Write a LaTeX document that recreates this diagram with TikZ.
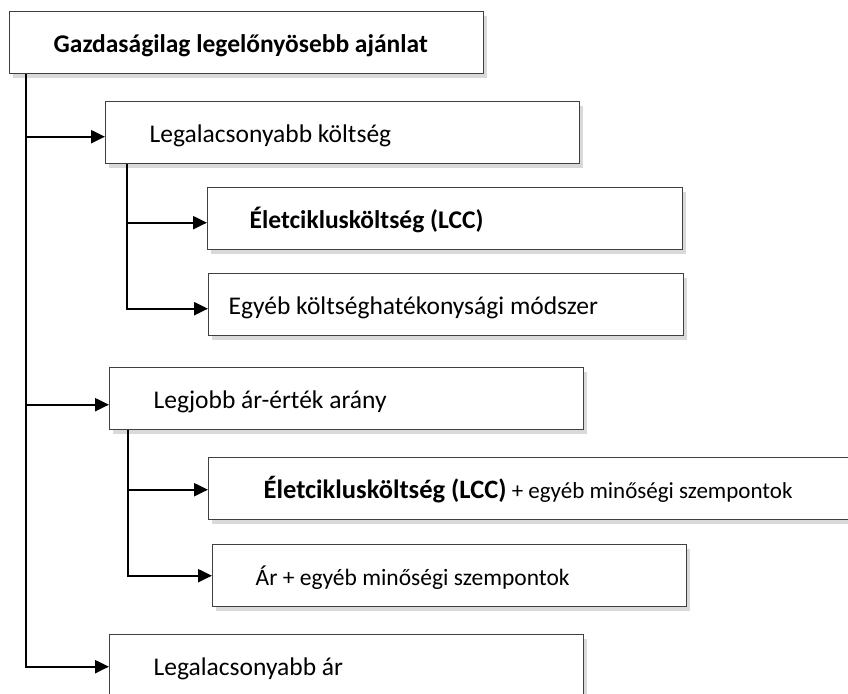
\documentclass[tikz,border=0pt]{standalone}
\usepackage{fontspec}
\setmainfont{Carlito}
\usetikzlibrary{arrows.meta,calc,shadows}

\tikzset{
  box/.style={rectangle, draw=black!75, line width=1.4pt, fill=white,
    anchor=north west, minimum height=62pt, inner xsep=44pt, inner ysep=0pt,
    text width=#1, align=flush left, text height=26pt, text depth=6pt,
    font=\fontsize{25.5}{30}\selectfont,
    drop shadow={shadow xshift=3.5pt, shadow yshift=-4.5pt, opacity=0.3}},
  box/.default=386pt,
  link/.style={line width=2.2pt, -{Triangle[length=14pt,width=13pt]}},
}

\begin{document}
\begin{tikzpicture}[x=1pt, y=-1pt]
  \useasboundingbox (0,0) rectangle (848,693);

  % boxes
  \node[box] (root) at (9,11) {\bfseries Gazdaságilag legelőnyösebb ajánlat};

  \node[box] (lowcost) at (105,101) {Legalacsonyabb költség};
  \node[box=391pt, inner xsep=42pt] (lcc) at (207,187) {\bfseries Életciklusköltség (LCC)};
  \node[box=435pt, inner xsep=20pt] (costeff) at (208,273) {Egyéb költséghatékonysági módszer};

  \node[box] (bestvalue) at (109,367) {Legjobb ár-érték arány};
  \node[box=572pt, inner xsep=55pt] (lccquality) at (208,457)
    {{\fontsize{26.5}{30}\selectfont\bfseries Életciklusköltség (LCC)}\fontsize{23}{30}\selectfont{} + egyéb minőségi szempontok};
  \node[box=388pt, inner xsep=43pt, font=\fontsize{23.5}{30}\selectfont] (pricequality) at (212,544) {Ár + egyéb minőségi szempontok};

  \node[box] (lowprice) at (109,634) {Legalacsonyabb ár};

  % main branch
  \coordinate (main) at (26,0);
  \draw[link] (main |- root.south) |- ($(lowcost.west)+(0,4)$);
  \draw[link] (main |- root.south) |- ($(bestvalue.west)+(0,6)$);
  \draw[link] (main |- root.south) |- ($(lowprice.west)+(0,1)$);

  % sub branches
  \draw[link] ($(lowcost.south west)+(22,0)$) |- ($(lcc.west)+(0,4)$);
  \draw[link] ($(lowcost.south west)+(22,0)$) |- ($(costeff.west)+(0,4)$);
  \draw[link] ($(bestvalue.south west)+(19,0)$) |- ($(lccquality.west)+(0,1)$);
  \draw[link] ($(bestvalue.south west)+(19,0)$) |- (pricequality.west);
\end{tikzpicture}
\end{document}
